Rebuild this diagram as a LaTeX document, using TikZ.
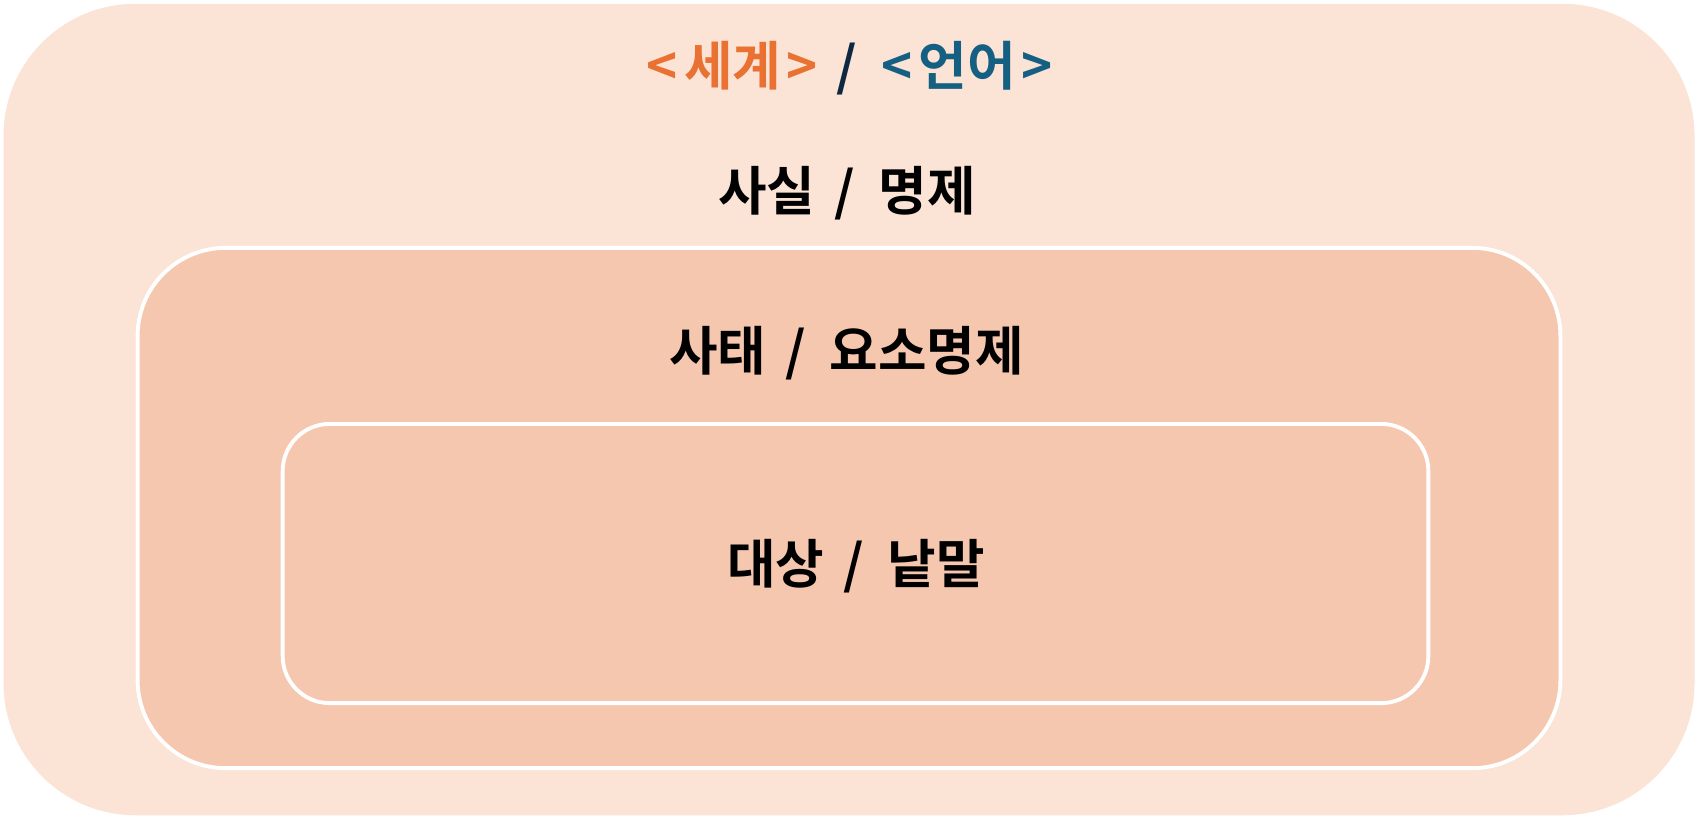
\documentclass[tikz,border=0pt]{standalone}
\usepackage{fontspec}
\newfontfamily\krfont{Noto Sans CJK KR}[BoldFont={* Bold}]
\definecolor{worldorange}{HTML}{E97132}
\definecolor{langblue}{HTML}{156082}
\definecolor{slashnavy}{HTML}{0E2841}
\definecolor{outerfill}{HTML}{FBE3D6}
\definecolor{innerfill}{HTML}{F6C7AF}
\newcommand{\pairsep}{\hspace{0.36em}/\hspace{0.46em}}
\newcommand{\angled}[1]{<\hspace{0.12em}#1\hspace{0.1em}>}
\begin{document}
\begin{tikzpicture}[
    x=0.01cm, y=-0.01cm,
    layerbox/.style={rectangle, fill=innerfill, draw=white, line width=1.1pt},
    label/.style={font=\krfont\bfseries\fontsize{15}{18}\selectfont, text=black, inner sep=0pt}
]
\useasboundingbox (0,0) rectangle (1698,820);

% Outer layer: world / language
\node[rectangle, fill=outerfill, rounded corners=1.32cm, minimum width=16.9cm, minimum height=8.11cm] (world) at (849,409.5) {};

% Middle layer
\node[layerbox, rounded corners=0.88cm, minimum width=14.22cm, minimum height=5.2cm] (state) at (849,508) {};

% Inner layer
\node[layerbox, rounded corners=0.47cm, minimum width=11.45cm, minimum height=2.79cm] (object) at (855.5,563.5) {};

% Labels
\node[label] (title) at (849.5,68) {\textcolor{worldorange}{\angled{세계}}\textcolor{slashnavy}{\pairsep}\textcolor{langblue}{\angled{언어}}};
\node[label] (fact) at (847,193) {사실\pairsep 명제};
\node[label] (affair) at (846.5,353) {사태\pairsep 요소명제};
\node[label] (thing) at (856,566) {대상\pairsep 낱말};

\end{tikzpicture}
\end{document}
